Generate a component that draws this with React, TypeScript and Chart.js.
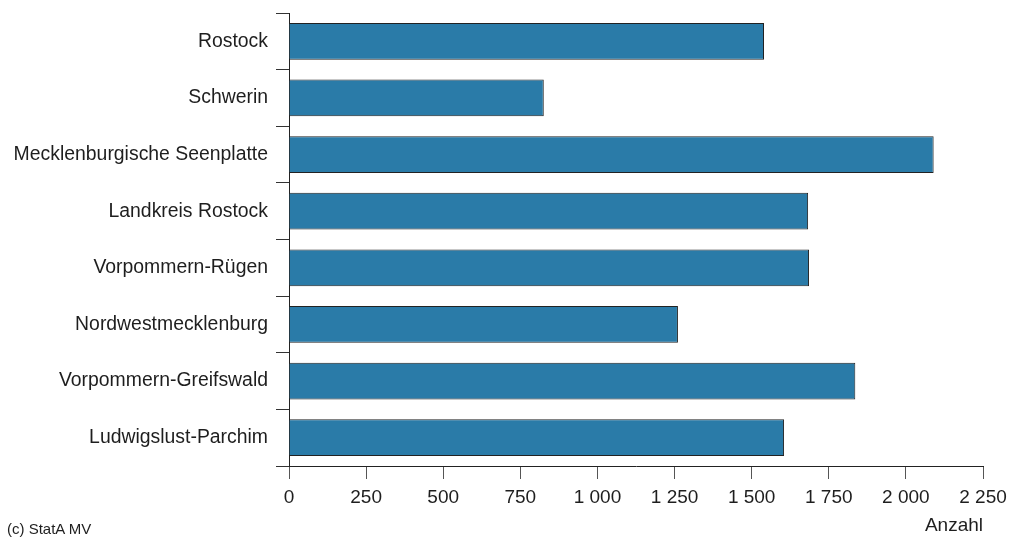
import React, { useEffect, useRef } from "react";
import { Chart, registerables } from "chart.js";

Chart.register(...registerables);

const categories = [
  "Rostock",
  "Schwerin",
  "Mecklenburgische Seenplatte",
  "Landkreis Rostock",
  "Vorpommern-Rügen",
  "Nordwestmecklenburg",
  "Vorpommern-Greifswald",
  "Ludwigslust-Parchim",
];
const values = [1540, 826, 2090, 1683, 1686, 1261, 1836, 1605];
const xMin = 0;
const xMax = 2250;
const xStep = 250;
const axisTitle = "Anzahl";
const sourceNote = "(c) StatA MV";

const FONT = "'Liberation Sans', Arial, Helvetica, sans-serif";

function fmt(v: number): string {
  return String(v).replace(/\B(?=(\d{3})+(?!\d))/g, " ");
}

export default function App() {
  const ref = useRef<HTMLCanvasElement | null>(null);

  useEffect(() => {
    if (!ref.current) return;
    const chart = new Chart(ref.current, {
      type: "bar",
      data: {
        labels: categories,
        datasets: [
          {
            data: values,
            backgroundColor: "#2a7ba8",
            borderColor: "#222",
            borderWidth: 1,
            barPercentage: 0.65,
            categoryPercentage: 1,
          },
        ],
      },
      options: {
        indexAxis: "y",
        animation: false,
        responsive: false,
        maintainAspectRatio: false,
        layout: { padding: { left: 0, right: 35, top: 13, bottom: 0 } },
        plugins: {
          legend: { display: false },
          tooltip: { enabled: false },
        },
        scales: {
          y: {
            afterFit: (scale: any) => {
              scale.width = 289;
              scale.paddingTop = 0;
              scale.paddingBottom = 0;
            },
            grid: {
              drawOnChartArea: false,
              drawTicks: true,
              tickLength: 13,
              color: "#333",
              offset: true,
            },
            border: { display: true, color: "#222", width: 1 },
            ticks: {
              color: "#1e1e1e",
              padding: 8,
              font: { family: FONT, size: 19.4 },
            },
          },
          x: {
            min: xMin,
            max: xMax,
            afterFit: (scale: any) => {
              scale.height = 73;
            },
            grid: {
              drawOnChartArea: false,
              drawTicks: true,
              tickLength: 13,
              color: "#555",
            },
            border: { display: true, color: "#222", width: 1 },
            ticks: {
              stepSize: xStep,
              color: "#1e1e1e",
              padding: 7,
              maxRotation: 0,
              font: { family: FONT, size: 19 },
              callback: (v: any) => fmt(Number(v)),
            },
          },
        },
      },
    });
    return () => chart.destroy();
  }, []);

  return (
    <div
      style={{
        position: "fixed",
        left: 0,
        top: 0,
        width: 1018,
        height: 539,
        background: "#fff",
      }}
    >
      <canvas ref={ref} width={1018} height={539} style={{ width: 1018, height: 539, display: "block" }} />
      <div
        style={{
          position: "absolute",
          right: 35,
          top: 513,
          fontFamily: FONT,
          fontSize: 19,
          color: "#1e1e1e",
          lineHeight: "24px",
        }}
      >
        {axisTitle}
      </div>
      <div
        style={{
          position: "absolute",
          left: 7,
          top: 519,
          fontFamily: FONT,
          fontSize: 15,
          color: "#1e1e1e",
          lineHeight: "20px",
        }}
      >
        {sourceNote}
      </div>
    </div>
  );
}
